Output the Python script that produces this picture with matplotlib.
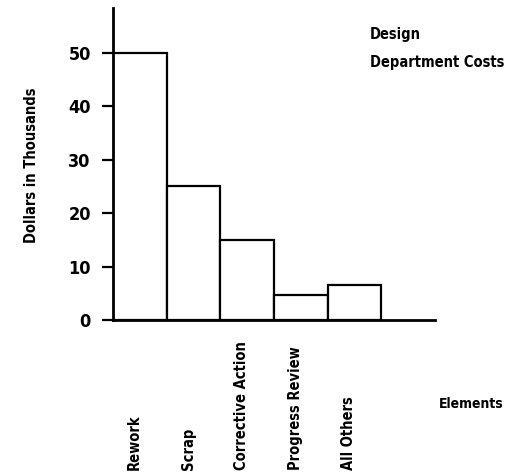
import numpy as np
import matplotlib.pyplot as plt

# Costos del departamento de diseno (miles de dolares)
elementos = ["Rework", "Scrap", "Corrective Action", "Progress Review", "All Others"]
costos = [50, 25, 15, 4.7, 6.5]
y_ticks = [0, 10, 20, 30, 40, 50]

plt.rcParams['font.family'] = ['DejaVu Sans']
plt.rcParams['font.stretch'] = 'condensed'
plt.rcParams['font.weight'] = 'bold'

fig = plt.figure(figsize=(5.06, 4.76), dpi=100)
ax = fig.add_axes([0.2233, 0.3277, 0.636, 0.6555])

x = np.arange(len(elementos))
ax.bar(x, costos, width=1.0, align='edge', facecolor='white',
       edgecolor='black', linewidth=1.6)

ax.set_xlim(0, 6.0)
ax.set_ylim(0, 58.4)
ax.set_yticks(y_ticks)
ax.set_yticklabels([str(v) for v in y_ticks], fontsize=13)
ax.set_xticks([])
ax.tick_params(axis='y', direction='out', length=8, width=1.6, pad=8)

for s in ['top', 'right']:
    ax.spines[s].set_visible(False)
for s in ['left', 'bottom']:
    ax.spines[s].set_linewidth(2)

# etiquetas verticales debajo de cada barra
for i, nombre in enumerate(elementos):
    ax.text(i + 0.4, -0.48, nombre, transform=ax.get_xaxis_transform(),
            rotation=90, ha='center', va='bottom', fontsize=10.5)

fig.text(0.062, 0.653, "Dollars in Thousands", rotation=90, ha='center',
         va='center', fontsize=10.5)
ax.text(6.08, -0.27, "Elements", transform=ax.get_xaxis_transform(),
        ha='left', va='center', fontsize=10)
fig.text(0.731, 0.943, "Design\nDepartment Costs", ha='left', va='top',
         fontsize=10.5, linespacing=2.1)

fig.savefig("out.png", dpi=100)
